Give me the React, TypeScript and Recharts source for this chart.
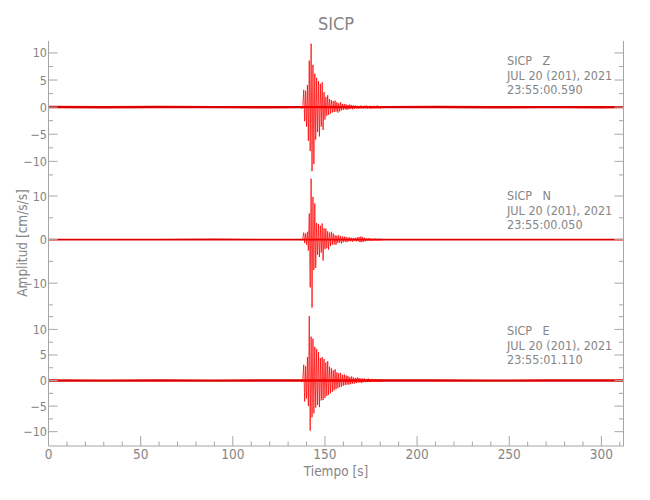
import React from "react";
import { LineChart, Line, XAxis, YAxis } from "recharts";

// ── Trace data ───────────────────────────────────────────
// Event window: one value every 0.5 s starting at 137 s

const EVENT_START = 137;
const EVENT_STEP = 0.5;

const Z_EVENT = [
  0.2, -0.3, 0.3, 3.2, -2.6, 3.0, -3.6, 4.1, -6.2, 8.6,
  -8.1, 11.7, -11.8, 7.8, -10.5, 6.2, -6.0, 5.4, -4.6, 4.8,
  -5.4, 4.3, -3.6, 4.6, -4.2, 2.8, -2.3, 1.9, -1.6, 2.2,
  -1.4, 1.5, -1.2, 1.3, -1.0, 1.1, -0.9, 1.2, -0.8, 0.9,
  -1.0, 0.7, -0.8, 0.9, -0.6, 0.6, -0.5, 0.6, -0.4, 0.5,
  -0.5, 0.4, -0.4, 0.5, -0.3, 0.4, -0.4, 0.3, -0.3, 0.3,
  -0.2, 0.25, -0.3, 0.2, -0.25, 0.3, -0.2, 0.2, -0.25, 0.25,
  -0.2, 0.3, -0.25, 0.2, -0.2, 0.25, -0.3, 0.2, -0.2, 0.25,
  -0.25, 0.2, -0.2, 0.3, -0.2, 0.2, -0.25, 0.2, -0.2,
];

const N_EVENT = [
  0.2, -0.2, 0.3, 1.6, -0.8, 1.4, -1.2, 1.8, -2.5, 6.0,
  -11.0, 14.0, -15.6, 9.8, -7.0, 8.3, -6.5, 3.8, -3.5, 3.6,
  -4.0, 3.2, -3.0, 3.7, -4.8, 2.6, -2.2, 2.5, -2.0, 1.9,
  -2.3, 1.6, -1.5, 1.8, -1.2, 1.4, -1.1, 1.0, -1.2, 0.9,
  -0.8, 1.0, -0.7, 0.8, -0.9, 0.7, -0.6, 0.7, -0.5, 0.6,
  -0.6, 0.5, -0.4, 0.5, -0.4, 0.4, -0.5, 0.4, -0.3, 0.4,
  -0.4, 0.5, -0.4, 0.6, -0.6, 0.7, -0.6, 0.6, -0.5, 0.4,
  -0.4, 0.3, -0.3, 0.3, -0.25, 0.3, -0.25, 0.2, -0.25, 0.2,
  -0.2, 0.25, -0.2, 0.2, -0.2, 0.2, -0.2, 0.2, -0.2,
];

const E_EVENT = [
  0.2, -0.3, 0.4, 3.1, -4.1, 2.8, -3.5, 4.6, -5.0, 12.6,
  -9.8, 8.6, -7.2, 8.2, -6.4, 6.6, -5.3, 6.2, -4.8, 5.6,
  -5.2, 4.4, -3.9, 4.6, -3.8, 4.2, -3.4, 3.5, -3.0, 3.8,
  -2.8, 2.7, -2.5, 2.4, -2.2, 2.0, -1.9, 2.2, -1.7, 1.6,
  -1.5, 1.4, -1.3, 1.5, -1.2, 1.1, -1.0, 1.2, -0.9, 1.0,
  -0.8, 0.9, -0.8, 0.7, -0.7, 0.8, -0.6, 0.6, -0.6, 0.5,
  -0.5, 0.6, -0.4, 0.5, -0.4, 0.4, -0.5, 0.4, -0.3, 0.4,
  -0.3, 0.3, -0.3, 0.4, -0.3, 0.3, -0.25, 0.3, -0.25, 0.3,
  -0.2, 0.25, -0.25, 0.2, -0.25, 0.2, -0.2, 0.25, -0.2,
];

// Quiet baseline outside the event window
const BASE_T = [0, 30, 60, 90, 120, 137, 181, 210, 240, 270, 300, 312];
const Z_BASE = [0.02, -0.03, 0.02, 0.0, -0.02, 0.0, 0.0, 0.02, -0.02, 0.01, -0.01, 0.0];
const N_BASE = [0.0, 0.01, -0.01, 0.02, 0.0, 0.0, 0.0, -0.01, 0.01, 0.0, 0.01, 0.0];
const E_BASE = [0.01, -0.02, 0.02, -0.01, 0.0, 0.0, 0.0, 0.01, -0.02, 0.02, 0.0, 0.01];

// ── Axes ─────────────────────────────────────────────────

const X_DOMAIN = [0, 312];
const X_TICKS = [
  0, 10, 20, 30, 40, 50, 60, 70, 80, 90, 100, 110, 120, 130, 140, 150,
  160, 170, 180, 190, 200, 210, 220, 230, 240, 250, 260, 270, 280, 290,
  300, 310,
];
const X_LABELS = [0, 50, 100, 150, 200, 250, 300];

const Z_DOMAIN = [-12.7, 12.2];
const Z_TICKS = [-12.5, -10, -7.5, -5, -2.5, 0, 2.5, 5, 7.5, 10];
const N_DOMAIN = [-16.4, 14.6];
const N_TICKS = [-15, -10, -5, 0, 5, 10];
const E_DOMAIN = [-12.8, 13.6];
const E_TICKS = [-10, -7.5, -5, -2.5, 0, 2.5, 5, 7.5, 10, 12.5];
const ZE_LABELS = [-10, -5, 0, 5, 10];
const N_LABELS = [-10, 0, 10];

// ── Styles ───────────────────────────────────────────────

const AXIS = "#a6a6a6";
const TEXT = "#858585";
const FONT = "'DejaVu Sans Condensed', 'DejaVu Sans', sans-serif";
const LEFT_W = 48.5;
const RIGHT_W = 26.5;

const fmt = (v: number) => (v < 0 ? "\u2212" + Math.abs(v) : String(v));

function rows(ts: number[], vals: number[]) {
  return ts.map((t, i) => ({ t, v: vals[i] }));
}

function eventRows(vals: number[]) {
  return vals.map((v, i) => ({ t: EVENT_START + i * EVENT_STEP, v }));
}

// ── Tick renderers (ticks point into the plot) ───────────

function BottomTick({ x, y, payload, showLabel }: any) {
  const major = payload.value % 50 === 0;
  return (
    <g>
      <line x1={x} x2={x} y1={y} y2={y - (major ? 10 : 4.5)} stroke={AXIS} />
      {showLabel && X_LABELS.includes(payload.value) && (
        <text x={x} y={y + 13} textAnchor="middle" fontSize={13.5} fill={TEXT} fontFamily={FONT}>
          {payload.value}
        </text>
      )}
    </g>
  );
}

function TopTick({ x, y, payload }: any) {
  const major = payload.value % 50 === 0;
  return <line x1={x} x2={x} y1={y} y2={y + (major ? 10 : 4.5)} stroke={AXIS} />;
}

function LeftTick({ x, y, payload, labels }: any) {
  const major = labels.includes(payload.value);
  return (
    <g>
      <line x1={x} x2={x + (major ? 9 : 4.5)} y1={y} y2={y} stroke={AXIS} />
      {major && (
        <text x={x - 1.5} y={y + 4.5} textAnchor="end" fontSize={12.5} fill={TEXT} fontFamily={FONT}>
          {fmt(payload.value)}
        </text>
      )}
    </g>
  );
}

function RightTick({ x, y, payload, labels }: any) {
  const major = labels.includes(payload.value);
  return <line x1={x} x2={x - (major ? 9 : 4.5)} y1={y} y2={y} stroke={AXIS} />;
}

// ── One seismogram panel ─────────────────────────────────

type PanelProps = {
  top: number;
  height: number;
  xAxisH: number;
  domain: number[];
  ticks: number[];
  labels: number[];
  base: { t: number; v: number }[];
  event: { t: number; v: number }[];
  baseWidth: number;
  showX: boolean;
};

function Panel(p: PanelProps) {
  return (
    <div style={{ position: "absolute", left: 0, top: p.top }}>
      <LineChart
        width={650}
        height={p.height + p.xAxisH}
        margin={{ top: 0, right: 0, bottom: 0, left: 0 }}
      >
        <XAxis
          xAxisId="b"
          type="number"
          dataKey="t"
          domain={X_DOMAIN}
          ticks={X_TICKS}
          interval={0}
          allowDataOverflow
          height={p.xAxisH}
          tickSize={0}
          tickMargin={0}
          tickLine={false}
          axisLine={{ stroke: AXIS }}
          tick={(tp: any) => <BottomTick {...tp} showLabel={p.showX} />}
        />
        <XAxis
          xAxisId="t"
          orientation="top"
          type="number"
          dataKey="t"
          domain={X_DOMAIN}
          ticks={X_TICKS}
          interval={0}
          allowDataOverflow
          height={0}
          tickSize={0}
          tickMargin={0}
          tickLine={false}
          axisLine={{ stroke: AXIS }}
          tick={(tp: any) => <TopTick {...tp} />}
        />
        <YAxis
          yAxisId="l"
          type="number"
          domain={p.domain}
          ticks={p.ticks}
          interval={0}
          allowDataOverflow
          width={LEFT_W}
          tickSize={0}
          tickMargin={0}
          tickLine={false}
          axisLine={{ stroke: AXIS }}
          tick={(tp: any) => <LeftTick {...tp} labels={p.labels} />}
        />
        <YAxis
          yAxisId="r"
          orientation="right"
          type="number"
          domain={p.domain}
          ticks={p.ticks}
          interval={0}
          allowDataOverflow
          width={RIGHT_W}
          tickSize={0}
          tickMargin={0}
          tickLine={false}
          axisLine={{ stroke: AXIS }}
          tick={(tp: any) => <RightTick {...tp} labels={p.labels} />}
        />
        <Line
          xAxisId="t"
          yAxisId="r"
          data={p.base}
          dataKey="v"
          stroke="none"
          dot={false}
          isAnimationActive={false}
        />
        <Line
          xAxisId="b"
          yAxisId="l"
          data={p.base}
          dataKey="v"
          stroke="#dc0000"
          strokeWidth={p.baseWidth}
          dot={false}
          isAnimationActive={false}
        />
        <Line
          xAxisId="b"
          yAxisId="l"
          data={p.event}
          dataKey="v"
          stroke="#ff0000"
          strokeWidth={1}
          strokeOpacity={0.75}
          dot={false}
          isAnimationActive={false}
        />
      </LineChart>
    </div>
  );
}

// ── Station annotations ──────────────────────────────────

function Note({ top, comp, date, time }: { top: number; comp: string; date: string; time: string }) {
  return (
    <g fontSize={12.5} fill={TEXT} fontFamily={FONT}>
      <text x={507} y={top + 24.5}>
        <tspan>SICP</tspan>
        <tspan x={542.5}>{comp}</tspan>
      </text>
      <text x={507} y={top + 39}>{date}</text>
      <text x={507} y={top + 53.5}>{time}</text>
    </g>
  );
}

export default function App() {
  return (
    <div style={{ position: "absolute", left: 0, top: 0, width: 650, height: 500, background: "#fff" }}>
      <Panel
        top={40.5}
        height={135}
        xAxisH={0}
        domain={Z_DOMAIN}
        ticks={Z_TICKS}
        labels={ZE_LABELS}
        base={rows(BASE_T, Z_BASE)}
        event={eventRows(Z_EVENT)}
        baseWidth={2.4}
        showX={false}
      />
      <Panel
        top={175.5}
        height={135}
        xAxisH={0}
        domain={N_DOMAIN}
        ticks={N_TICKS}
        labels={N_LABELS}
        base={rows(BASE_T, N_BASE)}
        event={eventRows(N_EVENT)}
        baseWidth={1.8}
        showX={false}
      />
      <Panel
        top={310.5}
        height={135}
        xAxisH={30}
        domain={E_DOMAIN}
        ticks={E_TICKS}
        labels={ZE_LABELS}
        base={rows(BASE_T, E_BASE)}
        event={eventRows(E_EVENT)}
        baseWidth={2.4}
        showX={true}
      />
      <svg
        width={650}
        height={500}
        style={{ position: "absolute", left: 0, top: 0, pointerEvents: "none" }}
      >
        <text x={336} y={30} textAnchor="middle" fontSize={18} fill={TEXT} fontFamily={FONT}>
          SICP
        </text>
        <Note top={40.5} comp="Z" date="JUL 20 (201), 2021" time="23:55:00.590" />
        <Note top={175.5} comp="N" date="JUL 20 (201), 2021" time="23:55:00.050" />
        <Note top={310.5} comp="E" date="JUL 20 (201), 2021" time="23:55:01.110" />
        <text
          x={27}
          y={243}
          transform="rotate(-90 27 243)"
          textAnchor="middle"
          fontSize={13.5}
          fill={TEXT}
          fontFamily={FONT}
        >
          Amplitud [cm/s/s]
        </text>
        <text x={336} y={475.5} textAnchor="middle" fontSize={13.5} fill={TEXT} fontFamily={FONT}>
          Tiempo [s]
        </text>
      </svg>
    </div>
  );
}
